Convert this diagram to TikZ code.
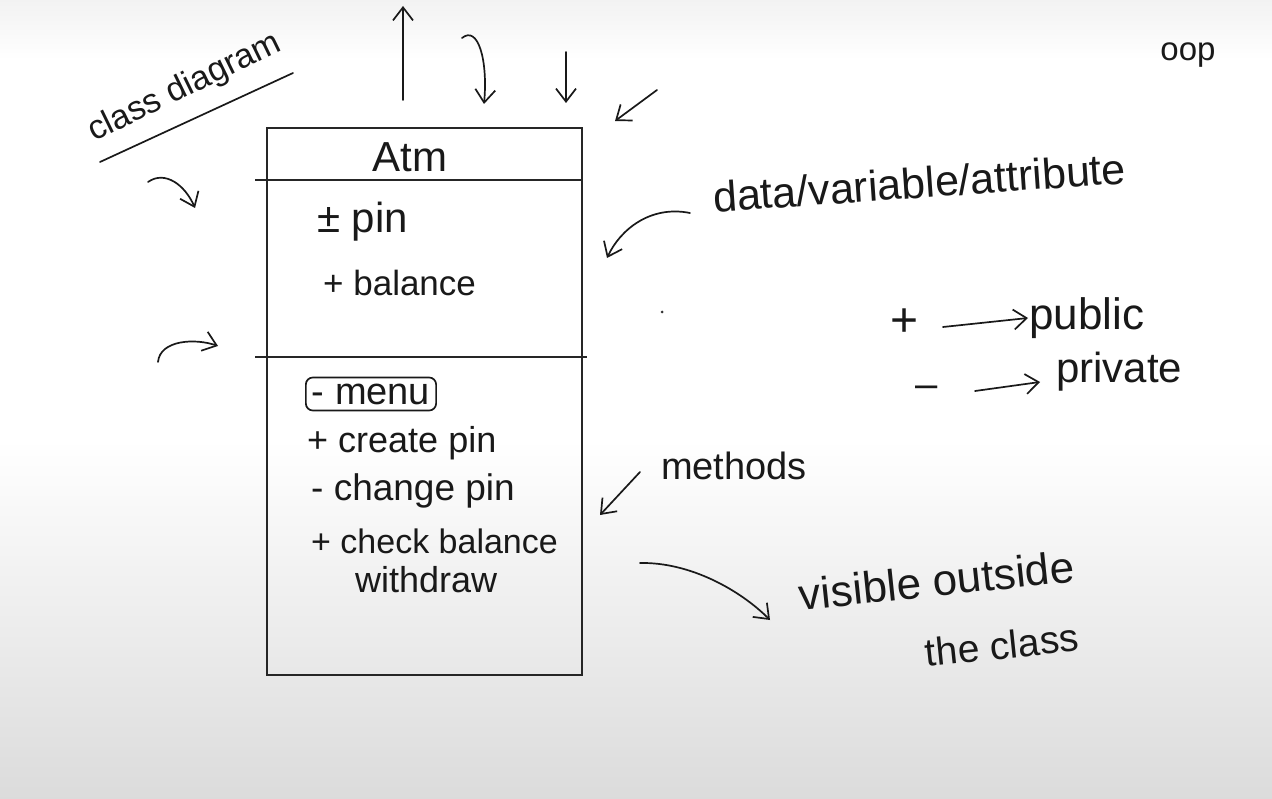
\documentclass[tikz,border=0pt]{standalone}
\usepackage{fontspec}
\setmainfont{Liberation Sans}
\usetikzlibrary{arrows.meta,calc}
\newcommand{\fs}[1]{\fontsize{#1}{#1}\selectfont}
\begin{document}
\begin{tikzpicture}[x=1pt,y=-1pt,
  ink/.style={draw=black!90, line width=1.7pt, line cap=round},
  arr/.style={ink, -{Straight Barb[length=13pt,width=20pt]}},
  hand/.style={text=black!90, inner sep=1pt},
  sep/.style={draw=black!85, line width=2pt}]
% background
\useasboundingbox (0,0) rectangle (1272,799);
\path[top color=gray!10, bottom color=white] (0,0) rectangle (1272,60);
\fill[white] (0,60) rectangle (1272,440);
\path[top color=white, bottom color=gray!28] (0,440) rectangle (1272,799);
% class box
\draw[draw=black!85, line width=2pt] (267,128) rectangle (582,675);
\coordinate (s1a) at (255,180); \coordinate (s1b) at (582,180);
\coordinate (s2a) at (255,357); \coordinate (s2b) at (587,357);
\draw[sep] (s1a) -- (s1b);
\draw[sep] (s2a) -- (s2b);
\node[hand, font=\fs{42}] (atm) at (410,157) {Atm};
\node[hand, font=\fs{42}, anchor=west] (pin) at (316,222) {± pin};
\node[hand, font=\fs{35}, anchor=west] (bal) at (322,283) {+ balance};
\node[hand, font=\fs{38}, anchor=west, draw=black!90, line width=1.7pt, rounded corners=7pt, inner xsep=6pt, inner ysep=0pt, minimum height=33pt] (menu) at (305,394) {- menu};
\node[hand, font=\fs{36}, anchor=west] (cpin) at (306,443) {+ create pin};
\node[hand, font=\fs{37}, anchor=west] (chpin) at (310,491) {- change pin};
\node[hand, font=\fs{34}, anchor=west] (cbal) at (310,541) {+ check balance};
\node[hand, font=\fs{36}, anchor=west] (wd) at (354,580) {withdraw};
% class diagram title
\node[hand, font=\fs{34}, rotate=26] (title) at (185,88) {class diagram};
\coordinate (ul1) at (100,162); \coordinate (ul2) at (293,73);
\draw[ink] (ul1) -- (ul2);
% top arrows
\coordinate (ua1) at (403,100); \coordinate (ua2) at (403,6);
\draw[arr] (ua1) -- (ua2);
\coordinate (ca1) at (462,38); \coordinate (ca2) at (484,104);
\draw[arr] (ca1) .. controls (478,25) and (488,60) .. (ca2);
\coordinate (da1) at (566,52); \coordinate (da2) at (566,103);
\draw[arr] (da1) -- (da2);
\coordinate (dg1) at (657,90); \coordinate (dg2) at (615,121);
\draw[arr] (dg1) -- (dg2);
% left arrows
\coordinate (la1) at (148,182); \coordinate (la2) at (195,208);
\draw[arr] (la1) .. controls (165,170) and (185,185) .. (la2);
\coordinate (lb1) at (158,362); \coordinate (lb2) at (218,346);
\draw[arr] (lb1) .. controls (160,340) and (195,338) .. (lb2);
% data annotation
\node[hand, font=\fs{43}, rotate=4, anchor=west] (data) at (712,197) {data/variable/attribute};
\coordinate (da0) at (690,213);
\draw[arr] (da0) .. controls (650,205) and (620,230) .. (607,258);
% public / private
\node[hand, font=\fs{48}] (plus) at (905,323) {+};
\node[hand, font=\fs{44}, anchor=west] (pub) at (1028,318) {public};
\draw[arr] (943,327) -- (pub.west);
\node[hand, font=\fs{40}] (minus) at (927,392) {--};
\node[hand, font=\fs{42}, anchor=west] (priv) at (1055,372) {private};
\draw[arr] (975,391) -- (1040,382);
% methods
\node[hand, font=\fs{38}, anchor=west] (meth) at (660,466) {methods};
\coordinate (mt) at (600,515);
\draw[arr] (640,472) -- (mt);
% visible outside the class
\node[hand, font=\fs{44}, rotate=6, anchor=west] (vis) at (798,595) {visible outside};
\node[hand, font=\fs{39}, rotate=6] (cls) at (1002,645) {the class};
\coordinate (va) at (640,563);
\draw[arr] (va) .. controls (690,562) and (740,590) .. (770,620);
% top right
\node[hand, font=\fs{33}] (oop) at (1188,55) {oop};
\fill[black!80] (662,312) circle (1.5);
\end{tikzpicture}
\end{document}
